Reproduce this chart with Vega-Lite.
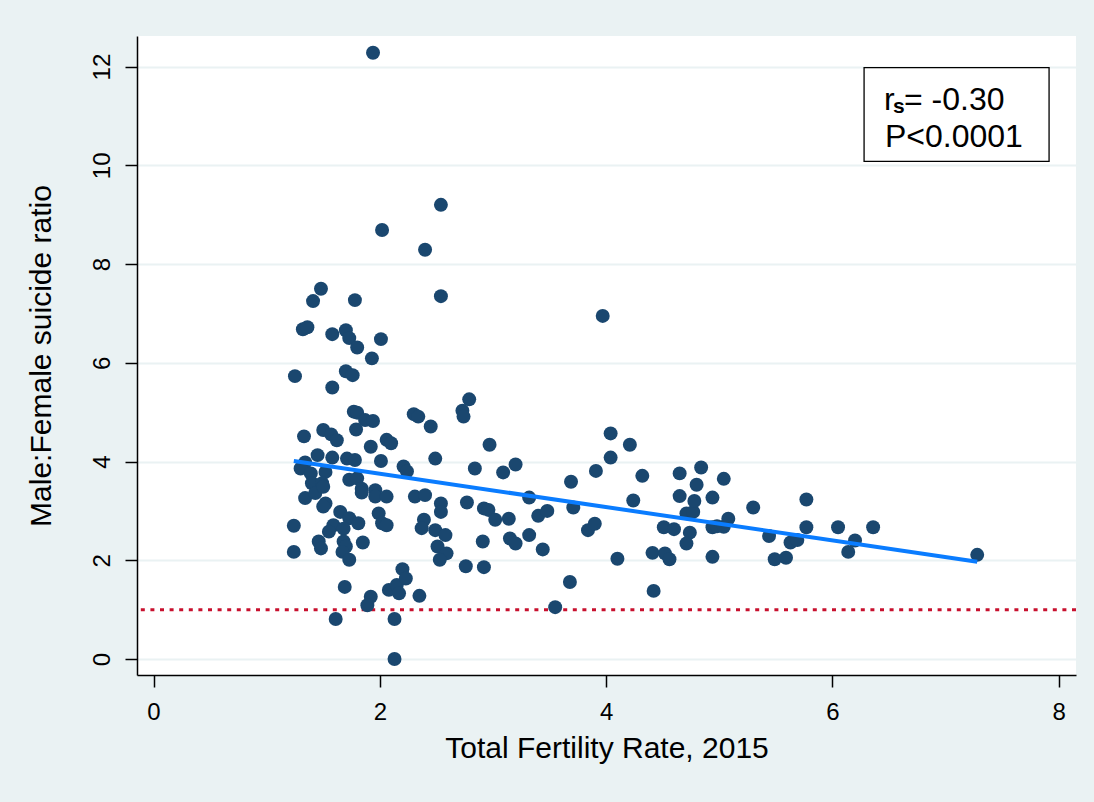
{
  "$schema": "https://vega.github.io/schema/vega-lite/v6.json",
  "width": 939,
  "height": 639,
  "autosize": {"type": "none"},
  "padding": {"left": 137, "top": 36, "right": 18, "bottom": 127},
  "background": "#EAF2F3",
  "config": {
    "view": {"fill": "white", "stroke": null},
    "font": "Liberation Sans",
    "axis": {
      "labelFont": "Liberation Sans",
      "titleFont": "Liberation Sans",
      "labelColor": "black",
      "titleColor": "black",
      "titleFontWeight": "normal",
      "domainColor": "black",
      "domainWidth": 1.5,
      "tickColor": "black",
      "tickWidth": 1.5,
      "tickSize": 12,
      "labelFontSize": 24,
      "titleFontSize": 30,
      "labelOverlap": false,
      "labelFlush": false
    }
  },
  "datasets": {
    "points": [
      {"tfr": 1.94, "ratio": 12.28}, {"tfr": 2.54, "ratio": 9.2}, {"tfr": 2.02, "ratio": 8.69}, {"tfr": 2.4, "ratio": 8.29},
      {"tfr": 2.54, "ratio": 7.35}, {"tfr": 1.48, "ratio": 7.5}, {"tfr": 1.41, "ratio": 7.25}, {"tfr": 1.78, "ratio": 7.27},
      {"tfr": 3.97, "ratio": 6.95}, {"tfr": 1.32, "ratio": 6.68}, {"tfr": 1.36, "ratio": 6.72}, {"tfr": 1.58, "ratio": 6.58},
      {"tfr": 1.7, "ratio": 6.66}, {"tfr": 1.73, "ratio": 6.5}, {"tfr": 1.8, "ratio": 6.31}, {"tfr": 2.01, "ratio": 6.48},
      {"tfr": 1.93, "ratio": 6.09}, {"tfr": 1.25, "ratio": 5.73}, {"tfr": 1.7, "ratio": 5.83}, {"tfr": 1.76, "ratio": 5.75},
      {"tfr": 1.58, "ratio": 5.5}, {"tfr": 2.79, "ratio": 5.26}, {"tfr": 2.73, "ratio": 5.03}, {"tfr": 2.74, "ratio": 4.91},
      {"tfr": 1.77, "ratio": 5.01}, {"tfr": 1.8, "ratio": 4.99}, {"tfr": 1.87, "ratio": 4.84}, {"tfr": 1.94, "ratio": 4.82},
      {"tfr": 2.3, "ratio": 4.96}, {"tfr": 2.34, "ratio": 4.91}, {"tfr": 2.45, "ratio": 4.71}, {"tfr": 1.33, "ratio": 4.51},
      {"tfr": 1.5, "ratio": 4.64}, {"tfr": 1.57, "ratio": 4.55}, {"tfr": 1.62, "ratio": 4.43}, {"tfr": 1.79, "ratio": 4.65},
      {"tfr": 1.92, "ratio": 4.3}, {"tfr": 2.06, "ratio": 4.44}, {"tfr": 2.1, "ratio": 4.37}, {"tfr": 2.49, "ratio": 4.06},
      {"tfr": 2.97, "ratio": 4.34}, {"tfr": 2.01, "ratio": 4.01}, {"tfr": 2.21, "ratio": 3.9}, {"tfr": 2.24, "ratio": 3.8},
      {"tfr": 1.34, "ratio": 3.98}, {"tfr": 1.45, "ratio": 4.13}, {"tfr": 1.58, "ratio": 4.08}, {"tfr": 1.71, "ratio": 4.06},
      {"tfr": 1.78, "ratio": 4.03}, {"tfr": 1.3, "ratio": 3.86}, {"tfr": 1.39, "ratio": 3.76}, {"tfr": 1.52, "ratio": 3.79},
      {"tfr": 1.73, "ratio": 3.63}, {"tfr": 1.8, "ratio": 3.66}, {"tfr": 1.4, "ratio": 3.56}, {"tfr": 1.49, "ratio": 3.56},
      {"tfr": 1.84, "ratio": 3.45}, {"tfr": 1.96, "ratio": 3.42}, {"tfr": 1.34, "ratio": 3.26}, {"tfr": 1.43, "ratio": 3.36},
      {"tfr": 1.5, "ratio": 3.49}, {"tfr": 1.52, "ratio": 3.15}, {"tfr": 1.84, "ratio": 3.37}, {"tfr": 1.96, "ratio": 3.29},
      {"tfr": 2.06, "ratio": 3.29}, {"tfr": 1.99, "ratio": 2.95}, {"tfr": 2.02, "ratio": 2.75}, {"tfr": 2.06, "ratio": 2.71},
      {"tfr": 1.65, "ratio": 2.98}, {"tfr": 1.73, "ratio": 2.85}, {"tfr": 1.81, "ratio": 2.75}, {"tfr": 1.24, "ratio": 2.7},
      {"tfr": 1.59, "ratio": 2.71}, {"tfr": 1.55, "ratio": 2.58}, {"tfr": 1.68, "ratio": 2.64}, {"tfr": 1.46, "ratio": 2.38},
      {"tfr": 1.48, "ratio": 2.24}, {"tfr": 1.68, "ratio": 2.38}, {"tfr": 1.7, "ratio": 2.28}, {"tfr": 1.67, "ratio": 2.17},
      {"tfr": 1.73, "ratio": 2.01}, {"tfr": 1.85, "ratio": 2.36}, {"tfr": 1.24, "ratio": 2.17}, {"tfr": 1.69, "ratio": 1.46},
      {"tfr": 1.92, "ratio": 1.26}, {"tfr": 2.08, "ratio": 1.4}, {"tfr": 1.61, "ratio": 0.81}, {"tfr": 1.89, "ratio": 1.09},
      {"tfr": 2.13, "ratio": 0.81}, {"tfr": 2.13, "ratio": 0.0}, {"tfr": 2.15, "ratio": 1.5}, {"tfr": 2.17, "ratio": 1.33},
      {"tfr": 2.2, "ratio": 1.82}, {"tfr": 2.23, "ratio": 1.63}, {"tfr": 2.35, "ratio": 1.28}, {"tfr": 1.5, "ratio": 3.09},
      {"tfr": 2.31, "ratio": 3.29}, {"tfr": 2.4, "ratio": 3.32}, {"tfr": 2.54, "ratio": 3.15}, {"tfr": 2.54, "ratio": 2.98},
      {"tfr": 2.39, "ratio": 2.82}, {"tfr": 2.37, "ratio": 2.65}, {"tfr": 2.49, "ratio": 2.61}, {"tfr": 2.58, "ratio": 2.51},
      {"tfr": 2.51, "ratio": 2.28}, {"tfr": 2.59, "ratio": 2.14}, {"tfr": 2.53, "ratio": 2.01}, {"tfr": 2.76, "ratio": 1.88},
      {"tfr": 2.92, "ratio": 1.86}, {"tfr": 2.91, "ratio": 2.38}, {"tfr": 2.77, "ratio": 3.17}, {"tfr": 2.92, "ratio": 3.05},
      {"tfr": 2.96, "ratio": 3.02}, {"tfr": 3.02, "ratio": 2.82}, {"tfr": 2.84, "ratio": 3.86}, {"tfr": 3.09, "ratio": 3.78},
      {"tfr": 3.2, "ratio": 3.94}, {"tfr": 3.32, "ratio": 3.27}, {"tfr": 3.14, "ratio": 2.84}, {"tfr": 3.15, "ratio": 2.44},
      {"tfr": 3.2, "ratio": 2.34}, {"tfr": 3.32, "ratio": 2.51}, {"tfr": 3.44, "ratio": 2.22}, {"tfr": 3.4, "ratio": 2.9},
      {"tfr": 3.48, "ratio": 3.0}, {"tfr": 3.69, "ratio": 3.59}, {"tfr": 3.71, "ratio": 3.07}, {"tfr": 3.84, "ratio": 2.61},
      {"tfr": 3.9, "ratio": 2.74}, {"tfr": 3.91, "ratio": 3.81}, {"tfr": 4.04, "ratio": 4.08}, {"tfr": 4.04, "ratio": 4.57},
      {"tfr": 4.21, "ratio": 4.34}, {"tfr": 4.32, "ratio": 3.71}, {"tfr": 4.24, "ratio": 3.21}, {"tfr": 4.1, "ratio": 2.03},
      {"tfr": 3.68, "ratio": 1.56}, {"tfr": 3.55, "ratio": 1.05}, {"tfr": 4.42, "ratio": 1.38}, {"tfr": 4.41, "ratio": 2.15},
      {"tfr": 4.52, "ratio": 2.14}, {"tfr": 4.56, "ratio": 2.02}, {"tfr": 4.51, "ratio": 2.67}, {"tfr": 4.6, "ratio": 2.63},
      {"tfr": 4.65, "ratio": 3.76}, {"tfr": 4.65, "ratio": 3.3}, {"tfr": 4.71, "ratio": 2.95}, {"tfr": 4.77, "ratio": 2.98},
      {"tfr": 4.78, "ratio": 3.2}, {"tfr": 4.74, "ratio": 2.56}, {"tfr": 4.71, "ratio": 2.34}, {"tfr": 4.8, "ratio": 3.53},
      {"tfr": 4.84, "ratio": 3.88}, {"tfr": 4.94, "ratio": 3.27}, {"tfr": 4.94, "ratio": 2.67}, {"tfr": 4.98, "ratio": 2.69},
      {"tfr": 5.04, "ratio": 2.68}, {"tfr": 4.94, "ratio": 2.07}, {"tfr": 5.04, "ratio": 3.65}, {"tfr": 5.08, "ratio": 2.84},
      {"tfr": 5.3, "ratio": 3.07}, {"tfr": 5.44, "ratio": 2.49}, {"tfr": 5.49, "ratio": 2.02}, {"tfr": 5.59, "ratio": 2.05},
      {"tfr": 5.63, "ratio": 2.36}, {"tfr": 5.69, "ratio": 2.41}, {"tfr": 5.77, "ratio": 3.23}, {"tfr": 5.77, "ratio": 2.67},
      {"tfr": 6.05, "ratio": 2.67}, {"tfr": 6.2, "ratio": 2.4}, {"tfr": 6.14, "ratio": 2.17}, {"tfr": 6.36, "ratio": 2.67},
      {"tfr": 7.28, "ratio": 2.11}
    ],
    "fit": [
      {"tfr": 1.24, "ratio": 4.01},
      {"tfr": 7.28, "ratio": 1.97}
    ],
    "refline": [
      {"ratio": 1}
    ],
    "box": [
      {"x1": 6.28, "x2": 7.915, "y1": 10.08, "y2": 11.98}
    ],
    "notes": [
      {"tx": 6.457, "ty": 11.12, "label": "r"},
      {"tx": 6.633, "ty": 11.12, "label": "= -0.30"},
      {"tx": 6.465, "ty": 10.38, "label": "P<0.0001"}
    ],
    "subs": [
      {"tx": 6.535, "ty": 11.07, "label": "s"}
    ]
  },
  "layer": [
    {
      "data": {"name": "refline"},
      "mark": {"type": "rule", "color": "#C8102E", "strokeWidth": 3, "strokeDash": [4, 5.6]},
      "encoding": {
        "y": {"field": "ratio", "type": "quantitative"}
      }
    },
    {
      "data": {"name": "points"},
      "mark": {"type": "circle", "size": 195, "color": "#1A476F", "opacity": 1},
      "encoding": {
        "x": {
          "field": "tfr",
          "type": "quantitative",
          "scale": {"domain": [-0.146, 8.153], "nice": false, "zero": false},
          "axis": {
            "values": [0, 2, 4, 6, 8],
            "format": "d",
            "title": "Total Fertility Rate, 2015",
            "grid": false,
            "labelPadding": 13,
            "titleBaseline": "alphabetic",
            "titleY": 82
          }
        },
        "y": {
          "field": "ratio",
          "type": "quantitative",
          "scale": {"domain": [-0.324, 12.62], "nice": false, "zero": false},
          "axis": {
            "values": [0, 2, 4, 6, 8, 10, 12],
            "format": "d",
            "title": "Male:Female suicide ratio",
            "grid": true,
            "gridColor": "#EAF2F3",
            "gridWidth": 2,
            "labelAngle": -90,
            "labelAlign": "center",
            "labelBaseline": "alphabetic",
            "labelPadding": 16,
            "titleBaseline": "alphabetic",
            "titleX": -87
          }
        }
      }
    },
    {
      "data": {"name": "fit"},
      "mark": {"type": "line", "color": "#0A7CFF", "strokeWidth": 4},
      "encoding": {
        "x": {"field": "tfr", "type": "quantitative"},
        "y": {"field": "ratio", "type": "quantitative"}
      }
    },
    {
      "data": {"name": "box"},
      "mark": {"type": "rect", "fill": "white", "stroke": "black", "strokeWidth": 1.3},
      "encoding": {
        "x": {"field": "x1", "type": "quantitative"},
        "x2": {"field": "x2"},
        "y": {"field": "y1", "type": "quantitative"},
        "y2": {"field": "y2"}
      }
    },
    {
      "data": {"name": "notes"},
      "mark": {"type": "text", "fontSize": 32, "align": "left", "baseline": "alphabetic", "color": "black"},
      "encoding": {
        "x": {"field": "tx", "type": "quantitative"},
        "y": {"field": "ty", "type": "quantitative"},
        "text": {"field": "label"}
      }
    },
    {
      "data": {"name": "subs"},
      "mark": {"type": "text", "fontSize": 21, "fontWeight": "bold", "align": "left", "baseline": "alphabetic", "color": "black"},
      "encoding": {
        "x": {"field": "tx", "type": "quantitative"},
        "y": {"field": "ty", "type": "quantitative"},
        "text": {"field": "label"}
      }
    }
  ]
}
